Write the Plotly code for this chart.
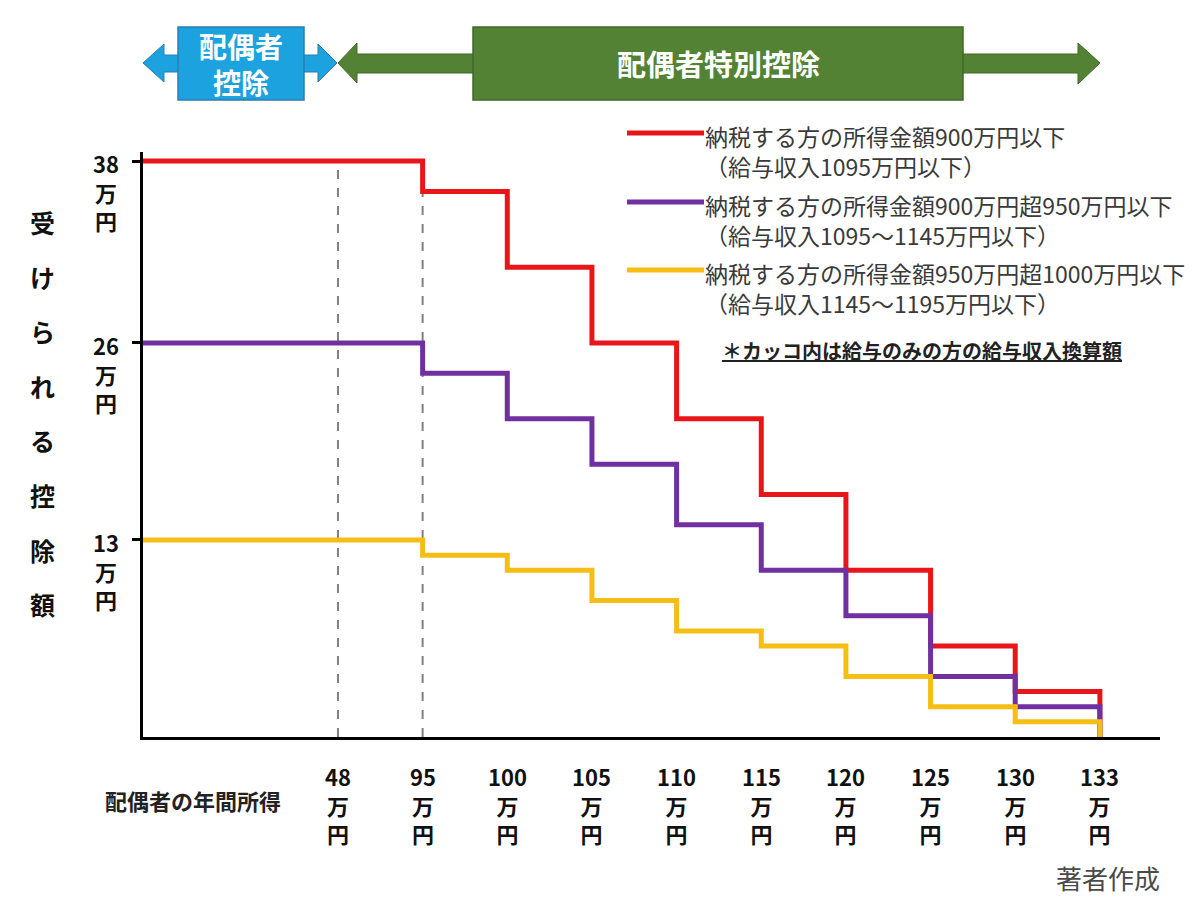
import plotly.graph_objects as go

# ---------------- data ----------------
income_labels = ["48", "95", "100", "105", "110", "115", "120", "125", "130", "133"]
red_vals = [38, 36, 31, 26, 21, 16, 11, 6, 3, 0]       # 所得金額900万円以下
purple_vals = [26, 24, 21, 18, 14, 11, 8, 4, 2, 0]     # 900万円超950万円以下
yellow_vals = [13, 12, 11, 9, 7, 6, 4, 2, 1, 0]        # 950万円超1000万円以下
y_ticks = [38, 26, 13]
series_names = [
    "納税する方の所得金額900万円以下",
    "納税する方の所得金額900万円超950万円以下",
    "納税する方の所得金額950万円超1000万円以下",
]
series_sub = [
    "（給与収入1095万円以下）",
    "（給与収入1095～1145万円以下）",
    "（給与収入1145～1195万円以下）",
]
series_colors = ["#E8161B", "#7030A0", "#F5BE14"]
y_title = "受けられる控除額"

# ---------------- layout geometry ----------------
W, H = 1200, 897
ML, MR, MT, MB = 143, 40, 152, 160
PW, PH = W - ML - MR, H - MT - MB
X_RANGE = [-2.303, 9.71]
Y_RANGE = [0, 38.6]
FONT = "Noto Sans CJK JP"


def fx(p):
    return (p - ML) / PW


def fy(p):
    return (H - MB - p) / PH


def note(x, y, text, size, color="#111", xanchor="center", yanchor="middle", xref="paper", yref="paper",
         yshift=0, align="center"):
    return dict(xref=xref, yref=yref, x=x, y=y, xanchor=xanchor, yanchor=yanchor, yshift=yshift, align=align,
                showarrow=False, text=text, font=dict(family=FONT, size=size, color=color))


fig = go.Figure()

# step lines: start at origin of x axis, then income thresholds from 95 on
step_x = [X_RANGE[0]] + list(range(1, len(income_labels)))
for vals, col, name in zip([red_vals, purple_vals, yellow_vals], series_colors, series_names):
    fig.add_trace(go.Scatter(x=step_x, y=vals, mode="lines", line=dict(color=col, width=5, shape="hv"),
                             name=name, showlegend=False, hoverinfo="skip"))

shapes = []
annotations = []

# dashed vertical guides at 48 and 95
for i in (0, 1):
    shapes.append(dict(type="line", xref="x", yref="y", x0=i, x1=i, y0=0, y1=red_vals[0],
                       line=dict(color="#808080", width=2, dash="dash"), layer="below"))

# y tick labels (first line centred on the tick)
for v in y_ticks:
    annotations.append(note(fx(106), v, f"<b>{v}<br>万<br>円</b>", 22, yref="y", yanchor="top", yshift=16))

# x tick labels
for i, lab in enumerate(income_labels):
    annotations.append(note(i, fy(758), f"<b>{lab}<br>万<br>円</b>", 22, xref="x", yanchor="top"))

annotations.append(note(fx(193), fy(800), "<b>配偶者の年間所得</b>", 22, color="#222"))

# y title, stacked characters
for k, ch in enumerate(y_title):
    annotations.append(note(fx(42), fy(222 + k * 54.6), f"<b>{ch}</b>", 25))

# legend (custom)
leg_y = [133, 202, 270]
for name, sub, col, yy in zip(series_names, series_sub, series_colors, leg_y):
    shapes.append(dict(type="line", xref="paper", yref="paper", x0=fx(627), x1=fx(704), y0=fy(yy), y1=fy(yy),
                       line=dict(color=col, width=5)))
    annotations.append(note(fx(703), fy(yy - 16), f"{name}<br>{sub}", 23, color="#3a3a3a", xanchor="left",
                            yanchor="top", align="left"))

annotations.append(note(fx(720), fy(350), "<b><u>＊カッコ内は給与のみの方の給与収入換算額</u></b>", 20,
                        color="#222", xanchor="left"))

annotations.append(note(fx(1108), fy(877), "著者作成", 26, color="#4a4a4a"))


# top arrows
def poly(pts):
    return "M " + " L ".join(f"{fx(a):.5f},{fy(b):.5f}" for a, b in pts) + " Z"


blue, blue_edge = "#1CA3DF", "#2B7DB5"
green, green_edge = "#548235", "#3F6A28"
blue_arrow = [(143, 63), (164, 44), (164, 55), (318, 55), (318, 44), (337, 63), (318, 82), (318, 72),
              (164, 72), (164, 82)]
green_arrow = [(338, 63), (357, 43), (357, 54), (1078, 54), (1078, 43), (1100, 63), (1078, 84), (1078, 73),
               (357, 73), (357, 83)]
shapes.append(dict(type="path", xref="paper", yref="paper", path=poly(green_arrow), fillcolor=green,
                   line=dict(color=green_edge, width=1)))
shapes.append(dict(type="path", xref="paper", yref="paper", path=poly(blue_arrow), fillcolor=blue,
                   line=dict(color=blue_edge, width=1)))
shapes.append(dict(type="rect", xref="paper", yref="paper", x0=fx(178), x1=fx(304), y0=fy(100), y1=fy(27),
                   fillcolor=blue, line=dict(color=blue_edge, width=1.5)))
shapes.append(dict(type="rect", xref="paper", yref="paper", x0=fx(473), x1=fx(963), y0=fy(100), y1=fy(27),
                   fillcolor=green, line=dict(color=green_edge, width=1.5)))
annotations.append(note(fx(241), fy(64), "<b>配偶者<br>控除</b>", 28, color="white"))
annotations.append(note(fx(718), fy(63), "<b>配偶者特別控除</b>", 29, color="white"))

fig.update_layout(
    width=W, height=H, autosize=False,
    margin=dict(l=ML, r=MR, t=MT, b=MB),
    paper_bgcolor="white", plot_bgcolor="white",
    xaxis=dict(range=X_RANGE, showgrid=False, zeroline=False, showline=True, linecolor="black", linewidth=3,
               showticklabels=False, ticks=""),
    yaxis=dict(range=Y_RANGE, showgrid=False, zeroline=False, showline=True, linecolor="black", linewidth=3,
               tickvals=y_ticks, ticks="outside", ticklen=8, tickwidth=2.5, tickcolor="black",
               showticklabels=False),
    shapes=shapes, annotations=annotations, showlegend=False,
)

fig.write_html("out.html")
